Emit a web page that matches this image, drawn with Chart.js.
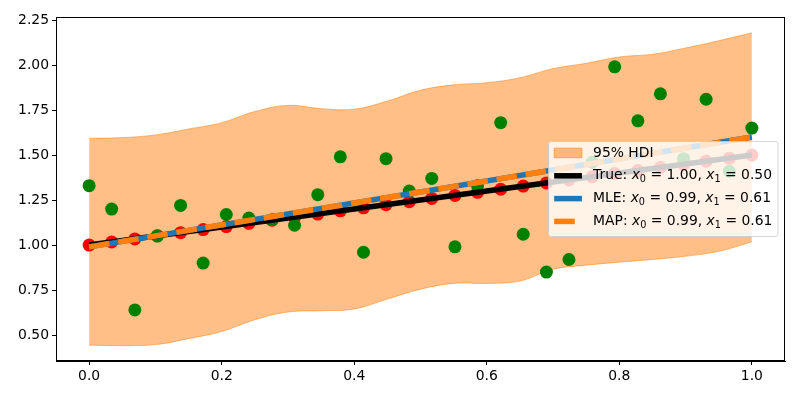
<!DOCTYPE html>
<html>
<head>
<meta charset="utf-8">
<script src="https://cdn.jsdelivr.net/npm/chart.js@4.4.1/dist/chart.umd.min.js"></script>
<style>
  html, body { margin: 0; padding: 0; background: #fff; }
  #wrap { width: 800px; height: 400px; }
</style>
</head>
<body>
<div id="wrap"><canvas id="chart" width="800" height="400"></canvas></div>
<script>
// sample positions (30 points on [0, 1])
const xVals = [0.000, 0.034, 0.069, 0.103, 0.138, 0.172, 0.207, 0.241, 0.276, 0.310,
               0.345, 0.379, 0.414, 0.448, 0.483, 0.517, 0.552, 0.586, 0.621, 0.655,
               0.690, 0.724, 0.759, 0.793, 0.828, 0.862, 0.897, 0.931, 0.966, 1.000];
// noiseless values on the true line
const trueVals = [1.000, 1.017, 1.034, 1.052, 1.069, 1.086, 1.103, 1.121, 1.138, 1.155,
                  1.172, 1.190, 1.207, 1.224, 1.241, 1.259, 1.276, 1.293, 1.310, 1.328,
                  1.345, 1.362, 1.379, 1.397, 1.414, 1.431, 1.448, 1.466, 1.483, 1.500];
// noisy observations
const observed = [1.33, 1.20, 0.64, 1.05, 1.22, 0.90, 1.17, 1.15, 1.14, 1.11,
                  1.28, 1.49, 0.96, 1.48, 1.30, 1.37, 0.99, 1.33, 1.68, 1.06,
                  0.85, 0.92, 1.46, 1.99, 1.69, 1.84, 1.48, 1.81, 1.41, 1.65];

// 95% HDI band
const hdiX = [0.00, 0.05, 0.10, 0.15, 0.20, 0.25, 0.30, 0.35, 0.40, 0.45, 0.50,
              0.55, 0.60, 0.65, 0.70, 0.75, 0.80, 0.85, 0.90, 0.95, 1.00];
const hdiUpper = [1.593, 1.597, 1.612, 1.645, 1.680, 1.742, 1.776, 1.758, 1.755, 1.800, 1.860,
                  1.890, 1.902, 1.930, 1.980, 2.010, 2.045, 2.060, 2.095, 2.135, 2.179];
const hdiLower = [0.444, 0.441, 0.447, 0.480, 0.520, 0.585, 0.628, 0.635, 0.645, 0.700, 0.755,
                  0.787, 0.787, 0.800, 0.865, 0.888, 0.905, 0.920, 0.938, 0.965, 1.018];

// fitted lines
const lineX = [0, 1];
const trueLine = [1.00, 1.50];
const mleLine = [0.99, 1.60];
const mapLine = [0.99, 1.60];

const xTicks = [0.0, 0.2, 0.4, 0.6, 0.8, 1.0];
const yTicks = [0.50, 0.75, 1.00, 1.25, 1.50, 1.75, 2.00, 2.25];

const FONT = '"DejaVu Sans", sans-serif';
const FS = 13.9;

const pts = (xs, ys) => xs.map((x, i) => ({ x: x, y: ys[i] }));

// legend entries; label parts: n = normal, i = italic, s = subscript
const legendItems = [
    { kind: "patch", color: "rgba(255,127,14,0.5)", parts: [["95% HDI", "n"]] },
    { kind: "line", color: "#000000", parts: [["True: ", "n"], ["x", "i"], ["0", "s"], [" = 1.00, ", "n"], ["x", "i"], ["1", "s"], [" = 0.50", "n"]] },
    { kind: "line", color: "#1f77b4", parts: [["MLE: ", "n"], ["x", "i"], ["0", "s"], [" = 0.99, ", "n"], ["x", "i"], ["1", "s"], [" = 0.61", "n"]] },
    { kind: "dash", color: "#ff7f0e", parts: [["MAP: ", "n"], ["x", "i"], ["0", "s"], [" = 0.99, ", "n"], ["x", "i"], ["1", "s"], [" = 0.61", "n"]] }
];

function partFont(kind) {
    if (kind === "i") return "italic " + FS + "px " + FONT;
    if (kind === "s") return (FS * 0.7).toFixed(1) + "px " + FONT;
    return FS + "px " + FONT;
}

const framePlugin = {
    id: "frameAndLegend",
    afterDatasetsDraw(chart) {
        const ctx = chart.ctx;
        const a = chart.chartArea;
        ctx.save();
        ctx.strokeStyle = "#000";
        ctx.lineWidth = 1;
        ctx.strokeRect(Math.round(a.left) + 0.5, Math.round(a.top) + 0.5,
            Math.round(a.right - a.left) - 1, Math.round(a.bottom - a.top) - 1);

        // legend box, centre right
        const rowH = 22.8;
        const pad = 5.6;
        const handleLen = 27.8;
        const textPad = 11.1;
        let maxW = 0;
        legendItems.forEach(it => {
            let w = 0;
            it.parts.forEach(p => { ctx.font = partFont(p[1]); w += ctx.measureText(p[0]).width; });
            it.width = w;
            maxW = Math.max(maxW, w);
        });
        const boxW = pad * 2 + handleLen + textPad + maxW;
        const boxH = 95;
        const right = a.right - 7;
        const left = right - boxW;
        const top = (a.top + a.bottom) / 2 - boxH / 2;

        ctx.beginPath();
        ctx.roundRect(left, top, boxW, boxH, 2.8);
        ctx.fillStyle = "rgba(255,255,255,0.8)";
        ctx.fill();
        ctx.strokeStyle = "rgba(204,204,204,0.8)";
        ctx.lineWidth = 1;
        ctx.stroke();

        legendItems.forEach((it, i) => {
            const cy = top + 11.5 + i * rowH;
            const hx = left + pad;
            if (it.kind === "patch") {
                ctx.fillStyle = it.color;
                ctx.fillRect(hx, cy - 4.9, handleLen, 9.7);
                ctx.strokeStyle = it.color;
                ctx.lineWidth = 1;
                ctx.strokeRect(hx, cy - 4.9, handleLen, 9.7);
            } else {
                ctx.beginPath();
                ctx.strokeStyle = it.color;
                ctx.lineWidth = 5.5;
                ctx.lineCap = "butt";
                if (it.kind === "dash") ctx.setLineDash([20.6, 8.9]); else ctx.setLineDash([]);
                ctx.moveTo(hx, cy);
                ctx.lineTo(hx + handleLen, cy);
                ctx.stroke();
                ctx.setLineDash([]);
            }
            let tx = hx + handleLen + textPad;
            ctx.fillStyle = "#000";
            ctx.textBaseline = "middle";
            ctx.textAlign = "left";
            it.parts.forEach(p => {
                ctx.font = partFont(p[1]);
                const dy = p[1] === "s" ? 3.6 : 0;
                ctx.fillText(p[0], tx, cy + dy);
                tx += ctx.measureText(p[0]).width;
            });
        });
        ctx.restore();
    }
};

const ctx = document.getElementById("chart").getContext("2d");
const chart = new Chart(ctx, {
    type: "line",
    data: {
        datasets: [
            {
                label: "95% HDI",
                data: pts(hdiX, hdiUpper),
                borderColor: "rgba(255,127,14,0.5)",
                backgroundColor: "rgba(255,127,14,0.5)",
                borderWidth: 1,
                pointRadius: 0,
                tension: 0.4,
                fill: "+1",
                order: 6
            },
            {
                label: "hdi lower",
                data: pts(hdiX, hdiLower),
                borderColor: "rgba(255,127,14,0.5)",
                borderWidth: 1,
                pointRadius: 0,
                tension: 0.4,
                fill: false,
                order: 5
            },
            {
                label: "true points",
                data: pts(xVals, trueVals),
                showLine: false,
                pointRadius: 6.5,
                pointBorderWidth: 0,
                pointBackgroundColor: "#ff0000",
                pointBorderColor: "#ff0000",
                order: 4
            },
            {
                label: "observed",
                data: pts(xVals, observed),
                showLine: false,
                pointRadius: 6.5,
                pointBorderWidth: 0,
                pointBackgroundColor: "#008000",
                pointBorderColor: "#008000",
                order: 3
            },
            {
                label: "True",
                data: pts(lineX, trueLine),
                borderColor: "#000000",
                borderWidth: 5.5,
                pointRadius: 0,
                fill: false,
                order: 2
            },
            {
                label: "MLE",
                data: pts(lineX, mleLine),
                borderColor: "#1f77b4",
                borderWidth: 5.5,
                pointRadius: 0,
                fill: false,
                order: 1
            },
            {
                label: "MAP",
                data: pts(lineX, mapLine),
                borderColor: "#ff7f0e",
                borderWidth: 5.5,
                borderDash: [20.6, 8.9],
                borderCapStyle: "butt",
                pointRadius: 0,
                fill: false,
                order: 0
            }
        ]
    },
    options: {
        responsive: false,
        animation: false,
        devicePixelRatio: 1,
        layout: { padding: { top: 17, right: 15, left: 0, bottom: 0 } },
        plugins: {
            legend: { display: false },
            tooltip: { enabled: false }
        },
        scales: {
            x: {
                type: "linear",
                min: -0.05,
                max: 1.05,
                afterBuildTicks: s => { s.ticks = xTicks.map(v => ({ value: v })); },
                afterFit: s => { s.height = 39; },
                ticks: {
                    autoSkip: false,
                    maxRotation: 0,
                    padding: 3,
                    color: "#000",
                    font: { family: FONT, size: FS },
                    callback: v => Number(v).toFixed(1)
                },
                grid: { drawOnChartArea: false, drawTicks: true, tickLength: 4, color: "#000" },
                border: { display: true, color: "#000" }
            },
            y: {
                type: "linear",
                min: 0.356,
                max: 2.267,
                afterBuildTicks: s => { s.ticks = yTicks.map(v => ({ value: v })); },
                afterFit: s => { s.width = 56; },
                ticks: {
                    autoSkip: false,
                    padding: 3,
                    color: "#000",
                    font: { family: FONT, size: FS },
                    callback: v => Number(v).toFixed(2)
                },
                grid: { drawOnChartArea: false, drawTicks: true, tickLength: 4, color: "#000" },
                border: { display: true, color: "#000" }
            }
        }
    },
    plugins: [framePlugin]
});
</script>
</body>
</html>
